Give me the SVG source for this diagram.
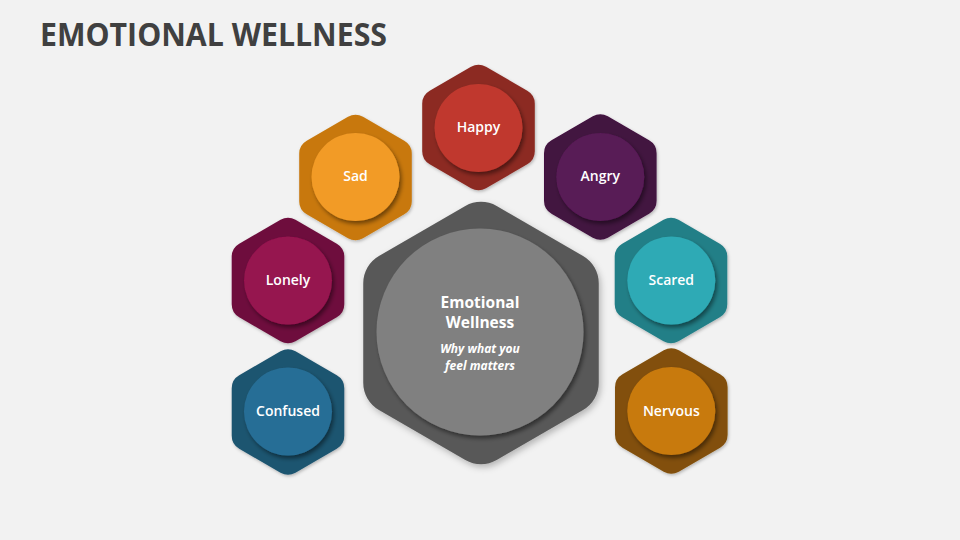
<svg xmlns="http://www.w3.org/2000/svg" xmlns:xlink="http://www.w3.org/1999/xlink" width="960" height="540" viewBox="0 0 960 540">
  <defs>
    <path id="hex" d="M-7.5,-60.67 A15,15 0 0 1 7.5,-60.67 L48.79,-36.83 A15,15 0 0 1 56.29,-23.84 L56.29,23.84 A15,15 0 0 1 48.79,36.83 L7.5,60.67 A15,15 0 0 1 -7.5,60.67 L-48.79,36.83 A15,15 0 0 1 -56.29,23.84 L-56.29,-23.84 A15,15 0 0 1 -48.79,-36.83 Z"/>
    <filter id="sh" x="-30%" y="-30%" width="160%" height="160%">
      <feDropShadow dx="2" dy="3" stdDeviation="2" flood-color="#000" flood-opacity="0.45"/>
    </filter>
    <filter id="hsh" x="-20%" y="-20%" width="140%" height="140%">
      <feDropShadow dx="1" dy="1.5" stdDeviation="1.5" flood-color="#000" flood-opacity="0.25"/>
    </filter>
  </defs>
  <style>
    .title { font-family: "Open Sans", "Liberation Sans", sans-serif; font-weight: 700; font-size: 32px; fill: #404040; }
    .lbl { font-family: "Open Sans", "Liberation Sans", sans-serif; font-weight: 600; font-size: 14px; fill: #ffffff; text-anchor: middle; }
    .ctitle { font-family: "Open Sans", "Liberation Sans", sans-serif; font-weight: 700; font-size: 15.5px; fill: #ffffff; text-anchor: middle; }
    .csub { font-family: "Open Sans", "Liberation Sans", sans-serif; font-weight: 700; font-style: italic; font-size: 12px; fill: #ffffff; text-anchor: middle; }
    .circ { filter: url(#sh); }
    .hx { filter: url(#hsh); }
  </style>
  <rect width="960" height="540" fill="#f2f2f2"/>
  <text class="title" x="40" y="46" textLength="347" lengthAdjust="spacingAndGlyphs">EMOTIONAL WELLNESS</text>

  <g id="connectors"/>

  <g id="center">
    <use class="hx" xlink:href="#hex" href="#hex" transform="translate(481,333) scale(2.092)" fill="#595959"/>
    <circle class="circ" cx="480" cy="332" r="103.5" fill="#808080"/>
    <text class="ctitle" x="480" y="308">Emotional</text>
    <text class="ctitle" x="480" y="328">Wellness</text>
    <text class="csub" x="480" y="353">Why what you</text>
    <text class="csub" x="480" y="370">feel matters</text>
  </g>

  <g id="happy">
    <use class="hx" xlink:href="#hex" href="#hex" x="478.5" y="127.5" fill="#8c2a23"/>
    <circle class="circ" cx="478.5" cy="128" r="44" fill="#c0392f"/>
    <text class="lbl" x="478.5" y="132">Happy</text>
  </g>

  <g id="sad">
    <use class="hx" xlink:href="#hex" href="#hex" x="355.5" y="177.5" fill="#c8780a"/>
    <circle class="circ" cx="355.5" cy="177" r="44" fill="#f29b28"/>
    <text class="lbl" x="355.5" y="181">Sad</text>
  </g>

  <g id="angry">
    <use class="hx" xlink:href="#hex" href="#hex" x="600.3" y="177" fill="#431240"/>
    <circle class="circ" cx="600.3" cy="177" r="44" fill="#591a57"/>
    <text class="lbl" x="600.3" y="181">Angry</text>
  </g>

  <g id="lonely">
    <use class="hx" xlink:href="#hex" href="#hex" x="288" y="280.5" fill="#6e0f3e"/>
    <circle class="circ" cx="288" cy="280.5" r="44" fill="#96134f"/>
    <text class="lbl" x="288" y="285">Lonely</text>
  </g>

  <g id="scared">
    <use class="hx" xlink:href="#hex" href="#hex" x="671" y="280.5" fill="#237f87"/>
    <circle class="circ" cx="671.3" cy="280.5" r="44" fill="#2eaab5"/>
    <text class="lbl" x="671.3" y="285">Scared</text>
  </g>

  <g id="confused">
    <use class="hx" xlink:href="#hex" href="#hex" x="288" y="412" fill="#1f5570"/>
    <circle class="circ" cx="288" cy="411.5" r="44" fill="#276e96"/>
    <text class="lbl" x="288" y="416">Confused</text>
  </g>

  <g id="nervous">
    <use class="hx" xlink:href="#hex" href="#hex" x="671.3" y="411" fill="#82500a"/>
    <circle class="circ" cx="671.3" cy="411" r="44" fill="#c87a0d"/>
    <text class="lbl" x="671.3" y="415.5">Nervous</text>
  </g>
</svg>
